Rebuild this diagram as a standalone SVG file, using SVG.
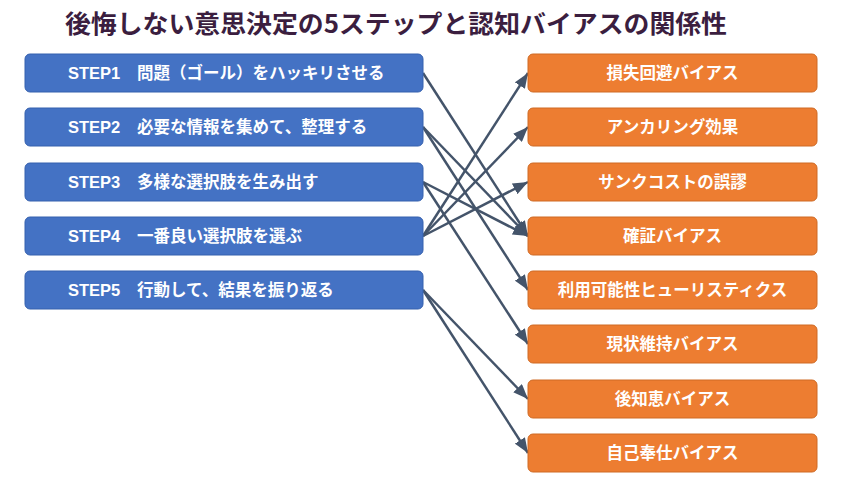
<svg xmlns="http://www.w3.org/2000/svg" width="846" height="490" viewBox="0 0 846 490">
<style>
.title{font-family:"Noto Sans CJK JP","Liberation Sans",sans-serif;font-weight:bold;font-size:25px;fill:#3B1E3F}
.step rect{fill:#4472C4;stroke:#3560AE;stroke-width:1}
.bias rect{fill:#ED7D31;stroke:#CF6A24;stroke-width:1}
.lbl{font-family:"Liberation Sans","Noto Sans CJK JP",sans-serif;font-weight:bold;font-size:16.5px;fill:#FFFFFF}
.jp{font-family:"Noto Sans CJK JP",sans-serif}
.c{text-anchor:middle}
#connectors line{stroke:#44546A;stroke-width:2.5;marker-end:url(#ah)}
</style>
<defs>
<marker id="ah" markerUnits="userSpaceOnUse" markerWidth="16" markerHeight="12" refX="15" refY="6" orient="auto">
<path d="M0,0 L15,6 L0,12 z" fill="#44546A"/>
</marker>
</defs>
<rect width="846" height="490" fill="#FFFFFF"/>
<text class="title" x="65" y="33" textLength="662" lengthAdjust="spacingAndGlyphs">後悔しない意思決定の5ステップと認知バイアスの関係性</text>

<g id="connectors">
<line x1="423" y1="73" x2="528" y2="236"/>
<line x1="423" y1="127" x2="528" y2="236"/>
<line x1="423" y1="127" x2="528" y2="290"/>
<line x1="423" y1="182" x2="528" y2="236"/>
<line x1="423" y1="182" x2="528" y2="344"/>
<line x1="423" y1="236" x2="528" y2="73"/>
<line x1="423" y1="236" x2="528" y2="127"/>
<line x1="423" y1="236" x2="528" y2="182"/>
<line x1="423" y1="290" x2="528" y2="399"/>
<line x1="423" y1="290" x2="528" y2="453"/>
</g>

<g id="step1" class="step"><rect x="25" y="54" width="398" height="38" rx="5"/><text class="lbl" x="68" y="79">STEP1<tspan class="jp" x="137">問題（ゴール）をハッキリさせる</tspan></text></g>
<g id="step2" class="step"><rect x="25" y="108" width="398" height="38" rx="5"/><text class="lbl" x="68" y="133">STEP2<tspan class="jp" x="137">必要な情報を集めて、整理する</tspan></text></g>
<g id="step3" class="step"><rect x="25" y="163" width="398" height="38" rx="5"/><text class="lbl" x="68" y="188">STEP3<tspan class="jp" x="137">多様な選択肢を生み出す</tspan></text></g>
<g id="step4" class="step"><rect x="25" y="217" width="398" height="38" rx="5"/><text class="lbl" x="68" y="242">STEP4<tspan class="jp" x="137">一番良い選択肢を選ぶ</tspan></text></g>
<g id="step5" class="step"><rect x="25" y="271" width="398" height="38" rx="5"/><text class="lbl" x="68" y="296">STEP5<tspan class="jp" x="137">行動して、結果を振り返る</tspan></text></g>

<g id="bias1" class="bias"><rect x="528" y="54" width="289" height="38" rx="5"/><text class="lbl jp c" x="672.5" y="79">損失回避バイアス</text></g>
<g id="bias2" class="bias"><rect x="528" y="108" width="289" height="38" rx="5"/><text class="lbl jp c" x="672.5" y="133">アンカリング効果</text></g>
<g id="bias3" class="bias"><rect x="528" y="163" width="289" height="38" rx="5"/><text class="lbl jp c" x="672.5" y="188">サンクコストの誤謬</text></g>
<g id="bias4" class="bias"><rect x="528" y="217" width="289" height="38" rx="5"/><text class="lbl jp c" x="672.5" y="242">確証バイアス</text></g>
<g id="bias5" class="bias"><rect x="528" y="271" width="289" height="38" rx="5"/><text class="lbl jp c" x="672.5" y="296">利用可能性ヒューリスティクス</text></g>
<g id="bias6" class="bias"><rect x="528" y="325" width="289" height="38" rx="5"/><text class="lbl jp c" x="672.5" y="350">現状維持バイアス</text></g>
<g id="bias7" class="bias"><rect x="528" y="380" width="289" height="38" rx="5"/><text class="lbl jp c" x="672.5" y="405">後知恵バイアス</text></g>
<g id="bias8" class="bias"><rect x="528" y="434" width="289" height="38" rx="5"/><text class="lbl jp c" x="672.5" y="459">自己奉仕バイアス</text></g>
</svg>
